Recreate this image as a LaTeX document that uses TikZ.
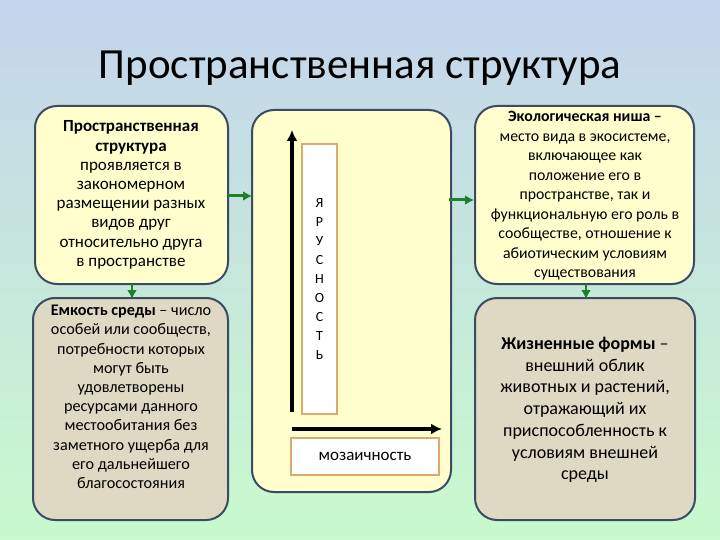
\documentclass[tikz,border=0pt]{standalone}
\usepackage{fontspec}
\setmainfont{Carlito}
\usetikzlibrary{arrows.meta}
\definecolor{bgtop}{RGB}{196,212,236}
\definecolor{bgbot}{RGB}{200,250,205}
\definecolor{boxy}{RGB}{255,254,204}
\definecolor{boxg}{RGB}{221,217,195}
\definecolor{edge}{RGB}{60,75,100}
\definecolor{grn}{RGB}{30,130,40}
\definecolor{orng}{RGB}{220,170,110}
\tikzset{
 x=1pt,y=-1pt,
 panel/.style={draw=edge,line width=2pt,rounded corners=22pt},
 txt/.style={align=center,font=\fontsize{16.2}{19.2}\selectfont},
 garrow/.style={draw=grn,line width=3pt,-{Latex[length=9pt,width=10pt]}},
 karrow/.style={draw=black,line width=3.5pt,-{Latex[length=11pt,width=11pt]}},
 lab/.style={draw=orng,line width=2pt,fill=white}
}
\begin{document}
\begin{tikzpicture}
\shade[top color=bgtop,bottom color=bgbot] (0,0) rectangle (720,540);
\useasboundingbox (0,0) rectangle (720,540);
\node (title) at (360,68) {\fontsize{43}{48}\selectfont Пространственная структура};
\draw[panel,fill=boxy] (35,106) rectangle (228,284);
\coordinate (lt) at (228,196);
\draw[panel,fill=boxg] (33,298) rectangle (228,520);
\draw[panel,fill=boxy] (252,110) rectangle (451,492);
\draw[panel,fill=boxy] (475,106) rectangle (694,284);
\draw[panel,fill=boxg] (475,298) rectangle (695,520);
\node[txt,font=\fontsize{17}{19.2}\selectfont] (a) at (131,195) {\textbf{Пространственная}\\\textbf{структура}\\проявляется в\\закономерном\\размещении разных\\видов друг\\относительно друга\\в пространстве};
\node[txt] (b) at (131,397) {\textbf{Емкость среды} – число\\особей или сообществ,\\потребности которых\\могут быть\\удовлетворены\\ресурсами данного\\местообитания без\\заметного ущерба для\\его дальнейшего\\благосостояния};
\node[txt,font=\fontsize{15.8}{19.5}\selectfont] (c) at (585,196) {\textbf{Экологическая ниша –}\\место вида в экосистеме,\\включающее как\\положение его в\\пространстве, так и\\функциональную его роль в\\сообществе, отношение к\\абиотическим условиям\\существования};
\node[txt,font=\fontsize{18}{21.7}\selectfont] (d) at (585,410) {\textbf{Жизненные формы} –\\внешний облик\\животных и растений,\\отражающий их\\приспособленность к\\условиям внешней\\среды};
\node[lab,minimum width=35pt,minimum height=270pt,align=center,font=\fontsize{14}{19}\selectfont] (y) at (319.5,279) {Я\\Р\\У\\С\\Н\\О\\С\\Т\\Ь};
\node[lab,minimum width=148pt,minimum height=37pt,font=\fontsize{17}{18}\selectfont] (m) at (365,456) {мозаичность};
\coordinate (o) at (292,429);
\coordinate (vt) at (292,130);
\coordinate (ht) at (442,429);
\coordinate (vb) at (292,412);
\draw[karrow] (vb) -- (vt);
\draw[karrow] (o) -- (ht);
\coordinate (m1) at (252,196);
\coordinate (m2) at (449,200);
\coordinate (r1) at (474,200);
\draw[garrow] (lt) -- (m1);
\draw[garrow] (m2) -- (r1);
\coordinate (a1) at (132,284);
\coordinate (b1) at (132,299);
\coordinate (c1) at (586,284);
\coordinate (d1) at (586,299);
\draw[garrow,line width=2.5pt] (a1) -- (b1);
\draw[garrow,line width=2.5pt] (c1) -- (d1);
\end{tikzpicture}
\end{document}
